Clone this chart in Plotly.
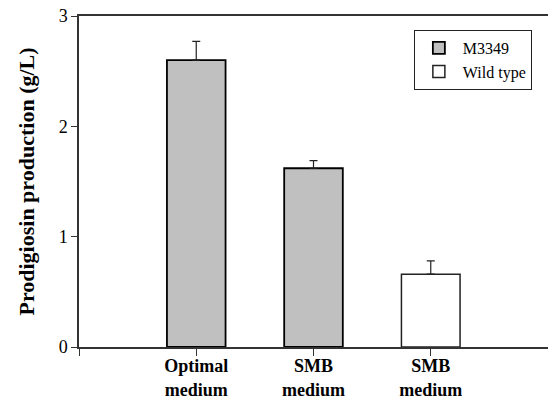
import plotly.graph_objects as go

tick_labels = ["Optimal<br>medium", "SMB<br>medium", "SMB<br>medium"]
m3349_x = [0, 1]
m3349_values = [2.60, 1.62]
m3349_err = [0.17, 0.07]
wild_x = [2]
wild_values = [0.66]
wild_err = [0.12]

font_family = "Liberation Serif, Times New Roman, serif"
axis_color = "#333333"

fig = go.Figure()
fig.add_trace(go.Bar(
    x=m3349_x, y=m3349_values, name="M3349", width=0.5,
    marker=dict(color="#c0c0c0", line=dict(color="black", width=1.8)),
    error_y=dict(type="data", symmetric=False, array=m3349_err,
                 arrayminus=[0] * len(m3349_err), color="#222222",
                 thickness=1.2, width=4),
))
fig.add_trace(go.Bar(
    x=wild_x, y=wild_values, name="Wild type", width=0.5,
    marker=dict(color="white", line=dict(color="#222222", width=1.5)),
    error_y=dict(type="data", symmetric=False, array=wild_err,
                 arrayminus=[0] * len(wild_err), color="#222222",
                 thickness=1.2, width=4),
))

fig.update_layout(
    width=548, height=401,
    margin=dict(l=79, r=0, t=16, b=54),
    plot_bgcolor="white", paper_bgcolor="white",
    barmode="overlay",
    font=dict(family=font_family, color="black", size=16),
    showlegend=True,
    legend=dict(x=0.714, y=0.958, xanchor="left", yanchor="top",
                bordercolor="#222222", borderwidth=1,
                font=dict(size=16, family=font_family),
                tracegroupgap=0, itemwidth=38,
                bgcolor="white"),
    xaxis=dict(range=[-1, 3], tickvals=[-1, 0, 1, 2],
               ticktext=[""] + tick_labels, automargin=False,
               showgrid=False, zeroline=False,
               showline=True, linecolor=axis_color, linewidth=1.5, mirror=True,
               ticks="outside", ticklen=7, tickcolor=axis_color, tickwidth=1.2,
               ticklabelstandoff=-5,
               tickfont=dict(size=18, family=font_family, weight="bold")),
    yaxis=dict(range=[0, 3], tickvals=[0, 1, 2, 3], automargin=False,
               showgrid=False, zeroline=False,
               showline=True, linecolor=axis_color, linewidth=1.5,
               ticks="outside", ticklen=6, tickcolor=axis_color, tickwidth=1.2,
               tickfont=dict(size=18, family=font_family),
               title=dict(text="Prodigiosin production (g/L)", standoff=18,
                          font=dict(size=22, family=font_family, weight="bold"))),
)

fig.write_html("out.html")
